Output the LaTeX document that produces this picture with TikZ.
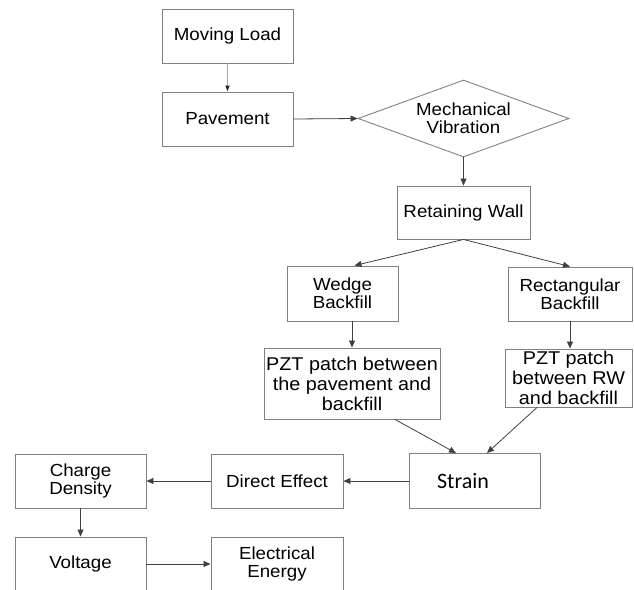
\documentclass[tikz,border=0pt]{standalone}
\usepackage{fontspec}
\setmainfont{Liberation Sans}[FakeStretch=1.07]
\newfontfamily\strainfont{Carlito}
\usetikzlibrary{shapes.geometric,arrows.meta,calc}
\begin{document}
\begin{tikzpicture}[x=1pt,y=-1pt,
  box/.style={draw=black!50,line width=0.9pt,rectangle,inner sep=0pt,align=center,
    font=\fontsize{17.5}{18}\selectfont,text=black},
  pztbox/.style={box,font=\fontsize{18.5}{20}\selectfont},
  conn/.style={draw=black!75,line width=0.8pt,-{Triangle[length=7pt,width=6pt]}},
  gconn/.style={draw=black!35,line width=1.8pt,-{Triangle[length=6pt,width=4pt,color=black!85,fill=black!85]}}
]
\useasboundingbox (0,0) rectangle (634,589);
\clip (0,0) rectangle (634,589);
\node[box,minimum width=131,minimum height=54] (ml) at (227.5,36) {Moving Load};
\node[box,minimum width=131,minimum height=54] (pav) at (227.5,119) {Pavement};
\node[box,shape=diamond,aspect=2.74,minimum width=211,minimum height=77] (mv) at (463.5,118.5) {Mechanical\\Vibration};
\node[box,minimum width=133,minimum height=53] (rw) at (463.5,212.5) {Retaining Wall};
\node[box,minimum width=111,minimum height=55] (wb) at (342.5,293.5) {Wedge\\Backfill};
\node[box,minimum width=124,minimum height=54] (rb) at (570,294) {Rectangular\\Backfill};
\node[pztbox,minimum width=176,minimum height=71] (pl) at (352,383.5) {PZT patch between\\the pavement and\\backfill};
\node[pztbox,minimum width=127,minimum height=58] (pr) at (568.5,378) {PZT patch\\between RW\\and backfill};
\node[box,minimum width=131,minimum height=55,font=\strainfont\fontsize{22}{24}\selectfont] (st) at (474.5,481) {Strain\hspace{23pt}};
\node[box,minimum width=132,minimum height=54] (de) at (277,481) {Direct Effect};
\node[box,minimum width=131,minimum height=54] (cd) at (80.5,481) {Charge\\Density};
\node[box,minimum width=131,minimum height=54] (vo) at (80.5,564) {Voltage};
\node[box,minimum width=132,minimum height=54] (ee) at (277,564) {Electrical\\Energy};
\draw[gconn] (ml.south) -- (pav.north);
\draw[conn] (pav.east) -- (mv.west);
\draw[conn] (mv.south) -- (rw.north);
\draw[conn] (rw.south) -- ([xshift=12pt]wb.north);
\draw[conn] (rw.south) -- (rb.north);
\draw[conn] (wb.south -| pl.north) -- (pl.north);
\draw[conn] (rb.south) -- (rb.south |- pr.north);
\draw[conn] ([xshift=43pt]pl.south) -- ([xshift=-18.5pt]st.north);
\draw[conn] ([xshift=-31.5pt]pr.south) -- ([xshift=12.5pt]st.north);
\draw[conn] (st.west) -- (de.east);
\draw[conn] (de.west) -- (cd.east);
\draw[conn] (cd.south) -- (vo.north);
\draw[conn] (vo.east) -- (ee.west);
\end{tikzpicture}
\end{document}
